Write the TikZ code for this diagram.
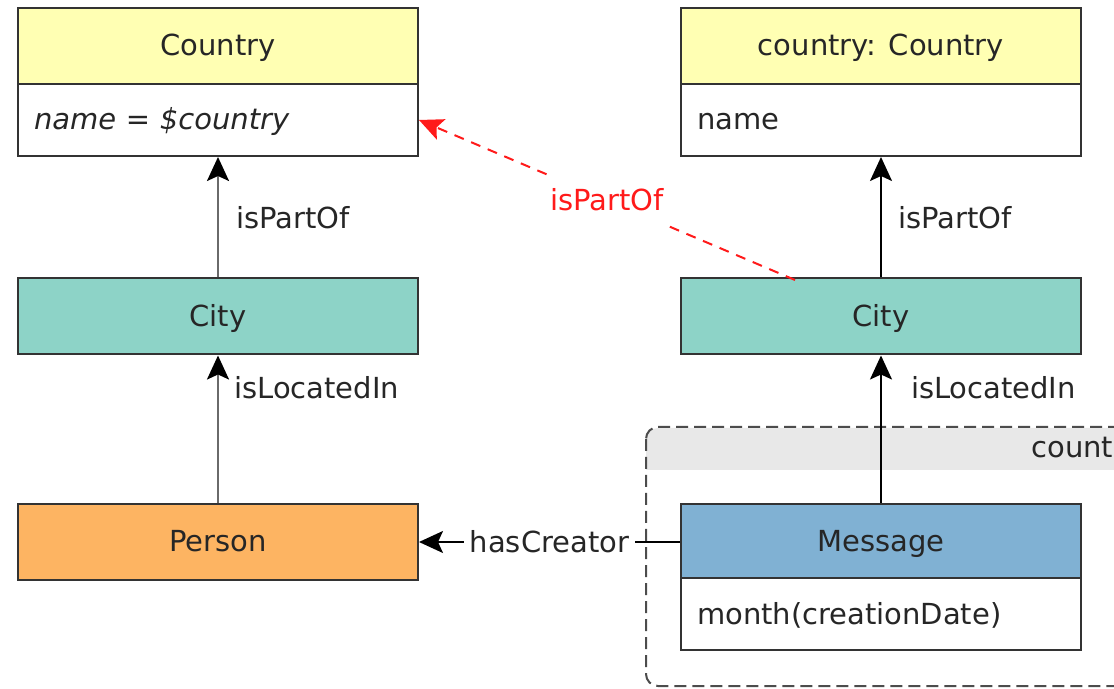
\documentclass[tikz,border=0pt]{standalone}
\usepackage{fontspec}
\setmainfont{DejaVu Sans}
\usetikzlibrary{arrows.meta}
\definecolor{hdryellow}{HTML}{FFFFB3}
\definecolor{hdrteal}{HTML}{8DD3C7}
\definecolor{hdrorange}{HTML}{FDB462}
\definecolor{hdrblue}{HTML}{80B1D3}
\definecolor{bandgray}{HTML}{E8E8E8}
\definecolor{edgegray}{HTML}{6A6A6A}
\definecolor{hilite}{HTML}{FF1A1A}
\tikzset{
  base/.style={font=\fontsize{14.5pt}{17pt}\selectfont, text=black!85},
  boxtext/.style={base, text height=10.5pt, text depth=0.5pt},
  header/.style={boxtext, draw=black!80, line width=1pt, minimum width=200pt,
    minimum height=38pt, inner sep=0pt},
  attrib/.style={boxtext, draw=black!80, line width=1pt, fill=white,
    minimum height=36pt, inner xsep=8pt, inner ysep=0pt,
    text width=184pt, align=left},
  headtip/.style={-{Stealth[length=12pt,width=11pt,inset=2.5pt,color=black,fill=black]}},
  lnk/.style={headtip, line width=1pt, draw=black},
  lnkgray/.style={headtip, line width=1.2pt, draw=edgegray},
  lbl/.style={base, inner sep=0pt},
  newlnk/.style={line width=1pt, draw=hilite, dash pattern=on 5pt off 4pt,
    -{Stealth[length=12pt,width=11pt,inset=2.5pt,color=hilite,fill=hilite]}},
}
\begin{document}
\begin{tikzpicture}[x=0.5pt,y=-0.5pt]
  \useasboundingbox (0,0) rectangle (1114,689);
  \clip (0,0) rectangle (1114,689);

  % grouping frame around the message
  \fill[bandgray, rounded corners=6pt] (646,428) rectangle (1160,470);
  \fill[bandgray] (646,450) rectangle (1160,470);
  \draw[draw=black!70, line width=1pt, dash pattern=on 6pt off 3pt, rounded corners=6pt]
    (646,427) rectangle (1160,686);
  \node[lbl, anchor=west] (grp) at (1031,448) {count};

  % left column
  \node[header, fill=hdryellow] (countryL) at (218,46) {Country};
  \node[attrib] (countryLattr) at (218,120) {\itshape name = \$country};
  \node[header, fill=hdrteal] (cityL) at (218,316.5) {City};
  \node[header, fill=hdrorange] (person) at (218,542) {Person};

  % right column
  \node[header, fill=hdryellow] (countryR) at (881,46) {country: Country};
  \node[attrib] (countryRattr) at (881,120) {name};
  \node[header, fill=hdrteal] (cityR) at (881,316.5) {City};
  \node[header, fill=hdrblue] (msg) at (881,542) {Message};
  \node[attrib] (msgattr) at (881,614) {month(creationDate)};

  % connectors
  \draw[lnkgray] (cityL.north) -- node[lbl, right=8.5pt] {isPartOf} (countryLattr.south);
  \draw[lnkgray] (person.north) -- node[lbl, pos=0.78, right=7.5pt] {isLocatedIn} (cityL.south);
  \draw[lnk] (cityR.north) -- node[lbl, right=8pt] {isPartOf} (countryRattr.south);
  \draw[lnk] (msg.north) -- node[lbl, pos=0.78, right=14.5pt] {isLocatedIn} (cityR.south);
  \draw[lnk] (msg.west) -- node[lbl, fill=white, inner xsep=3pt, inner ysep=2pt] {hasCreator} (person.east);

  \coordinate (redstart) at (795,280);
  \draw[newlnk] (redstart) -- node[lbl, text=hilite, fill=white, inner xsep=1pt, inner ysep=7pt, pos=0.5] {isPartOf} (countryLattr.east);
\end{tikzpicture}
\end{document}
